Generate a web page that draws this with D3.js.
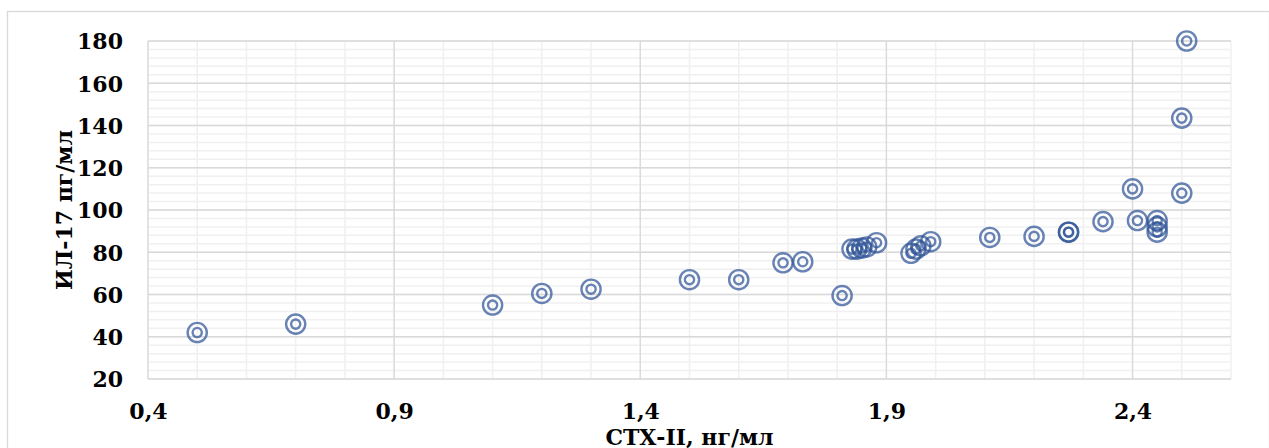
<!DOCTYPE html>
<html>
<head>
<meta charset="utf-8">
<script src="https://cdn.jsdelivr.net/npm/d3@7"></script>
<style>
  body { margin: 0; background: #fff; }
  text { font-family: "DejaVu Serif", serif; font-weight: bold; fill: #000; }
</style>
</head>
<body>
<svg id="chart" width="1269" height="448"></svg>
<script>
// CTX-II (x) vs IL-17 (y)
var ctx2 = [0.5, 0.7, 1.1, 1.2, 1.3, 1.5, 1.6, 1.69, 1.73, 1.81,
    1.83, 1.84, 1.85, 1.86, 1.88, 1.95, 1.96, 1.97, 1.99, 2.11,
    2.2, 2.27, 2.27, 2.34, 2.4, 2.41, 2.45, 2.45, 2.45, 2.5, 2.5, 2.51];
var il17 = [42, 46, 55, 60.5, 62.5, 67, 67, 75, 75.5, 59.5,
    81.5, 81.5, 82, 82.5, 84.5, 79.5, 81.5, 83, 85, 87,
    87.5, 89.5, 89.5, 94.5, 110, 95, 95, 92, 89.5, 108, 143.5, 180];

var xTicks = [0.4, 0.9, 1.4, 1.9, 2.4];
var yTicks = [20, 40, 60, 80, 100, 120, 140, 160, 180];
var xTitle = "СТХ-II, нг/мл";
var yTitle = "ИЛ-17 пг/мл";

var svg = d3.select("#chart");
var m = {left: 148, right: 1231, top: 41, bottom: 379};

// outer chart border
svg.append("rect")
    .attr("x", 7.5).attr("y", 11.5)
    .attr("width", 1262).attr("height", 450)
    .attr("fill", "#fff").attr("stroke", "#d9d9d9").attr("stroke-width", 1.3);

var x = d3.scaleLinear().domain([0.4, 2.6]).range([m.left, m.right]);
var y = d3.scaleLinear().domain([20, 180]).range([m.bottom, m.top]);

var grid = svg.append("g");
// minor grid
var xMinor = d3.range(0, 23).map(function (i) { return 0.4 + i * 0.1; });
var yMinor = d3.range(0, 41).map(function (i) { return 20 + i * 4; });
grid.selectAll(".ymin").data(yMinor).enter().append("line")
    .attr("x1", m.left).attr("x2", m.right)
    .attr("y1", function (d) { return y(d); }).attr("y2", function (d) { return y(d); })
    .attr("stroke", "#f0f0f0").attr("stroke-width", 1.5);
grid.selectAll(".xmin").data(xMinor).enter().append("line")
    .attr("y1", m.top).attr("y2", m.bottom)
    .attr("x1", function (d) { return x(d); }).attr("x2", function (d) { return x(d); })
    .attr("stroke", "#f0f0f0").attr("stroke-width", 1.5);
// major grid
grid.selectAll(".ymaj").data(yTicks).enter().append("line")
    .attr("x1", m.left).attr("x2", m.right)
    .attr("y1", function (d) { return y(d); }).attr("y2", function (d) { return y(d); })
    .attr("stroke", "#d9d9d9").attr("stroke-width", 1.3);
grid.selectAll(".xmaj").data(xTicks).enter().append("line")
    .attr("y1", m.top).attr("y2", m.bottom)
    .attr("x1", function (d) { return x(d); }).attr("x2", function (d) { return x(d); })
    .attr("stroke", "#d9d9d9").attr("stroke-width", 1.3);

var fmt = function (d) { return String(d).replace(".", ","); };

// axes: labels only
var xAxis = svg.append("g").attr("transform", "translate(0," + m.bottom + ")")
    .call(d3.axisBottom(x).tickValues(xTicks).tickSize(0).tickFormat(fmt));
xAxis.select(".domain").remove();
xAxis.selectAll("text").attr("y", 40).attr("dy", 0)
    .style("font-size", "22px").style("font-family", "DejaVu Serif").style("font-weight", "bold");

var yAxis = svg.append("g").attr("transform", "translate(" + m.left + ",0)")
    .call(d3.axisLeft(y).tickValues(yTicks).tickSize(0).tickFormat(fmt));
yAxis.select(".domain").remove();
yAxis.selectAll("text").attr("x", -25).attr("dy", "0.36em")
    .style("font-size", "22px").style("font-family", "DejaVu Serif").style("font-weight", "bold");

// titles
svg.append("text")
    .attr("x", (m.left + m.right) / 2).attr("y", 445)
    .attr("text-anchor", "middle").style("font-size", "22px")
    .text(xTitle);
svg.append("text")
    .attr("transform", "translate(72," + (m.top + m.bottom) / 2 + ") rotate(-90)")
    .attr("text-anchor", "middle").style("font-size", "22px")
    .text(yTitle);

// double ring markers
var pts = ctx2.map(function (v, i) { return [v, il17[i]]; });
var marks = svg.append("g").selectAll("g").data(pts).enter().append("g")
    .attr("transform", function (d) { return "translate(" + x(d[0]) + "," + y(d[1]) + ")"; })
    .attr("fill", "none").attr("stroke", "#2f5597").attr("stroke-opacity", 0.72)
    .attr("stroke-width", 2.4);
marks.append("circle").attr("r", 9.6);
marks.append("circle").attr("r", 4.6);
</script>
</body>
</html>
